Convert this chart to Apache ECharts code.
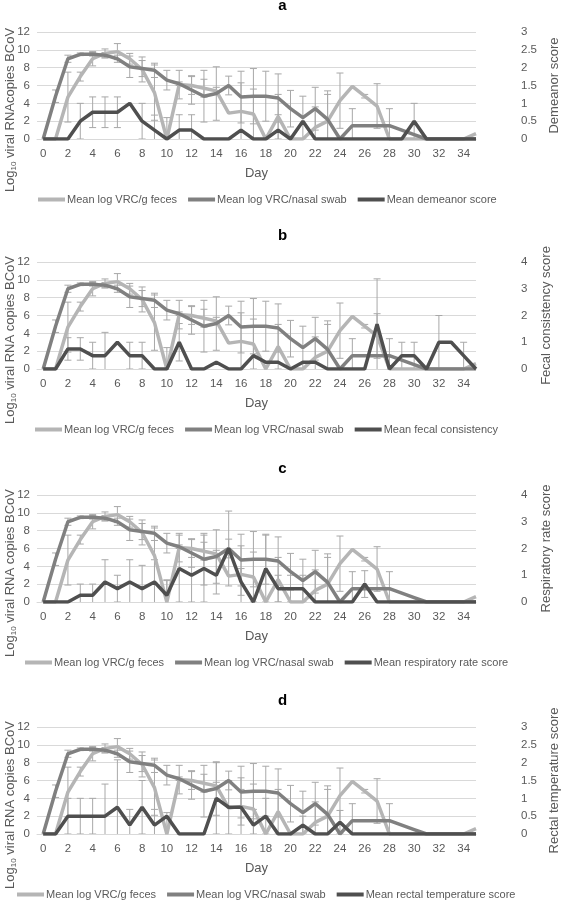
<!DOCTYPE html>
<html>
<head>
<meta charset="utf-8">
<script src="https://cdn.jsdelivr.net/npm/echarts@6/dist/echarts.min.js"></script>
<style>
html,body{margin:0;padding:0;background:#fff;}
#c{width:565px;height:911px;}
</style>
</head>
<body>
<div id="c"></div>
<script>
const days = [0,1,2,3,4,5,6,7,8,9,10,11,12,13,14,15,16,17,18,19,20,21,22,23,24,25,26,27,28,29,30,31,32,33,34,35];

const feces    = [0,0,4.7,7.0,9.0,9.6,9.8,9.0,7.8,5.2,0,6.1,6.0,5.7,5.4,2.9,3.1,2.8,0,2.5,0,0,1.3,2.0,4.3,5.9,4.8,3.7,0,0,0,0,0,0,0,0.6];
const fecesErr = [0,0,2.8,0.5,0.8,0.5,0.9,0.6,1.4,3.1,2.4,1.6,1.0,1.0,0.4,0,3.2,2.8,0,2.5,0,0,2.3,3.0,3.1,0,0.2,2.5,0,0,0,0,0,0,0,0];

const nasal    = [0,4.8,9.0,9.5,9.5,9.4,9.0,8.1,7.9,7.7,6.6,6.2,5.5,4.8,5.1,6.0,4.7,4.8,4.8,4.6,3.4,2.4,3.4,2.2,0,1.5,1.5,1.5,1.5,1.0,0.5,0,0,0,0,0];
const nasalErr = [0,0.7,0.4,0.15,0.2,0.3,0.4,1.2,0.9,0.8,1.1,0.2,1.6,2.9,3.0,1.05,2.9,3.1,2.8,2.7,2.05,2.4,2.4,3.2,0,1.9,0,0,1.9,0,0,0,0,0,0,0];

const demeanor    = [0,0,0,0.5,0.75,0.75,0.75,1.0,0.5,0.25,0,0.25,0.25,0,0,0,0.25,0,0,0.25,0,0.5,0,0,0,0,0,0,0,0,0.5,0,0,0,0,0];
const demeanorErr = [0,0,0,0.5,0.43,0.43,0.43,0,0.5,0.42,0,0.43,0.43,0,0,0,0,0,0,0.43,0,0,0,0,0,0,0,0,0,0,0.5,0,0,0,0,0];

const fecal    = [0,0,0.75,0.75,0.5,0.5,1.0,0.5,0.5,0,0,1.0,0,0,0.25,0,0,0.5,0.25,0.25,0,0.25,0.25,0,0,0,0,1.67,0,0.5,0.5,0,1.0,1.0,0.5,0];
const fecalErr = [0,0,0.42,0.42,0.5,0.87,0,0.5,0.5,0,0,0.7,0,0,0,0,0,0,0,0,0,0,0,0,0,0,0,1.7,0,0.5,0.5,0,1.0,0,0.5,0];

const resp    = [0,0,0,0.25,0.25,0.75,0.5,0.75,0.5,0.75,0.25,1.25,1.0,1.25,1.0,2.0,0.75,0,1.25,0.5,0.5,0.5,0,0,0,0,0.67,0,0,0,0,0,0,0,0,0];
const respErr = [0,0,0,0.42,0.42,0.83,0.5,0.83,0.87,0.83,0.58,1.25,1.0,1.25,0.7,1.4,0.5,0,1.25,0.5,0.5,0.5,0,0,0,0,0.5,0,0,0,0,0,0,0,0,0];

const rectal    = [0,0,0.5,0.5,0.5,0.5,0.75,0.25,0.75,0.25,0.5,0,0,0,1.0,0.75,0.75,0.25,0.5,0,0,0.25,0,0,0.33,0,0,0,0,0,0,0,0,0,0,0];
const rectalErr = [0,0,0.5,0.5,0.5,0.9,1.33,0.44,0.75,0.44,0,0,0,0,1.0,0.75,0.5,0.44,0.5,0,0,0.25,0,0,0.33,0,0,0,0,0,0,0,0,0,0,0];

const panelLetters = ['a','b','c','d'];
const leftTitles = ['{n|Log}{s|10}{n| viral RNAcopies BCoV}','{n|Log}{s|10}{n| viral RNA copies BCoV}','{n|Log}{s|10}{n| viral RNA copies BCoV}','{n|Log}{s|10}{n| viral RNA copies BCoV}'];
const rightTitles = ['Demeanor score','Fecal consistency score','Respiratory rate score','Rectal temperature score'];
const scoreNames = ['Mean demeanor score','Mean fecal consistency','Mean respiratory rate score','Mean rectal temperature score'];
const scoreData = [demeanor, fecal, resp, rectal];
const scoreErrData = [demeanorErr, fecalErr, respErr, rectalErr];
const rightMax = [3,4,4,3];
const rightInterval = [0.5,1,1,0.5];
const fecesName = 'Mean log VRC/g feces';
const nasalName = 'Mean log VRC/nasal swab';

const FONT = '"Liberation Sans", Arial, sans-serif';
const C_FECES = '#b5b5b5', C_NASAL = '#808080', C_SCORE = '#4f4f4f', C_ERR = '#a8a8a8', C_TXT = '#595959';
const PANEL_OFF = [0, 230, 463, 695];
const LEGEND_LEFT = [38, 35, 25, 17];

function lineData(vals){ return days.map((d,i)=>[d, vals[i]]); }
function errData(vals, errs){
  const out = [];
  days.forEach((d,i)=>{ if (errs[i] > 0) out.push([d, vals[i]-errs[i], vals[i]+errs[i]]); });
  return out;
}
function errRender(params, api){
  const x = api.value(0);
  let lo = api.value(1), hi = api.value(2);
  const loClipped = lo < 0;
  if (loClipped) lo = 0;
  const pLo = api.coord([x, lo]);
  const pHi = api.coord([x, hi]);
  const w = 3.5;
  const st = {stroke: C_ERR, lineWidth: 1};
  const ch = [
    {type:'line', shape:{x1:pLo[0], y1:pLo[1], x2:pHi[0], y2:pHi[1]}, style: st},
    {type:'line', shape:{x1:pHi[0]-w, y1:pHi[1], x2:pHi[0]+w, y2:pHi[1]}, style: st}
  ];
  if (!loClipped) ch.push({type:'line', shape:{x1:pLo[0]-w, y1:pLo[1], x2:pLo[0]+w, y2:pLo[1]}, style: st});
  return {type:'group', children: ch};
}

const grid = [], xAxis = [], yAxis = [], series = [], title = [], legend = [], graphic = [];
panelLetters.forEach((L, p) => {
  const o = PANEL_OFF[p];
  title.push({text: L, left: 'center', top: o - 7, textStyle:{fontFamily: FONT, fontSize: 15, fontWeight: 'bold', color: '#000'}});
  grid.push({left: 37, right: 89, top: o + 32, height: 107, outerBoundsMode: 'none', containLabel: false});
  xAxis.push({
    gridIndex: p, type: 'value', min: -0.5, max: 35, interval: 0.5,
    name: 'Day', nameLocation: 'middle', nameGap: 28,
    nameTextStyle: {fontFamily: FONT, fontSize: 13, color: C_TXT},
    axisLine: {show: true, lineStyle: {color: '#d9d9d9', width: 1}},
    axisTick: {show: false}, splitLine: {show: false},
    axisLabel: {fontFamily: FONT, fontSize: 11.5, color: C_TXT, margin: 9,
      formatter: v => (Number.isInteger(v) && v >= 0 && v % 2 === 0 && v <= 34) ? String(v) : ''}
  });
  yAxis.push({
    gridIndex: p, type: 'value', min: 0, max: 12, interval: 2, position: 'left',
    axisLine: {show: false}, axisTick: {show: false},
    splitLine: {show: true, lineStyle: {color: '#d9d9d9', width: 1}},
    axisLabel: {fontFamily: FONT, fontSize: 11.5, color: C_TXT, margin: 7}
  });
  yAxis.push({
    gridIndex: p, type: 'value', min: 0, max: rightMax[p], interval: rightInterval[p], position: 'right',
    name: rightTitles[p], nameLocation: 'middle', nameGap: 64, nameRotate: 90,
    nameTextStyle: {fontFamily: FONT, fontSize: 13, color: C_TXT},
    axisLine: {show: false}, axisTick: {show: false}, splitLine: {show: false},
    axisLabel: {fontFamily: FONT, fontSize: 11.5, color: C_TXT, margin: 45}
  });
  graphic.push({
    type: 'text', x: 10, y: o + 110, rotation: Math.PI / 2,
    style: {
      text: leftTitles[p], align: 'center', verticalAlign: 'middle', fill: C_TXT,
      rich: {n: {fontFamily: FONT, fontSize: 13, fill: C_TXT, color: C_TXT, lineHeight: 16},
             s: {fontFamily: FONT, fontSize: 8, fill: C_TXT, color: C_TXT, verticalAlign: 'bottom', lineHeight: 16, padding: [6,0,0,0]}}
    }
  });
  const yl = p*2, yr = p*2+1;
  series.push({type:'custom', name: fecesName+'_err', xAxisIndex: p, yAxisIndex: yl, renderItem: errRender, data: errData(feces, fecesErr), z: 3, silent: true, clip: true});
  series.push({type:'custom', name: nasalName+'_err', xAxisIndex: p, yAxisIndex: yl, renderItem: errRender, data: errData(nasal, nasalErr), z: 3, silent: true, clip: true});
  series.push({type:'custom', name: scoreNames[p]+'_err', xAxisIndex: p, yAxisIndex: yr, renderItem: errRender, data: errData(scoreData[p], scoreErrData[p]), z: 3, silent: true, clip: true});
  series.push({type:'line', name: fecesName, xAxisIndex: p, yAxisIndex: yl, data: lineData(feces), showSymbol: false, symbol: 'none', lineStyle: {color: C_FECES, width: 3.5}, itemStyle: {color: C_FECES}, z: 4, animation: false});
  series.push({type:'line', name: nasalName, xAxisIndex: p, yAxisIndex: yl, data: lineData(nasal), showSymbol: false, symbol: 'none', lineStyle: {color: C_NASAL, width: 3.5}, itemStyle: {color: C_NASAL}, z: 5, animation: false});
  series.push({type:'line', name: scoreNames[p], xAxisIndex: p, yAxisIndex: yr, data: lineData(scoreData[p]), showSymbol: false, symbol: 'none', lineStyle: {color: C_SCORE, width: 3.5}, itemStyle: {color: C_SCORE}, z: 6, animation: false});
  legend.push({
    top: o + 194, left: LEGEND_LEFT[p], padding: 0, icon: 'rect', itemWidth: 27, itemHeight: 4, itemGap: 11,
    data: [fecesName, nasalName, scoreNames[p]],
    textStyle: {fontFamily: FONT, fontSize: 11, color: C_TXT, padding: [0,0,0,-3]}
  });
});

const chart = echarts.init(document.getElementById('c'), null, {renderer: 'canvas'});
chart.setOption({animation: false, backgroundColor: '#fff', title, grid, xAxis, yAxis, series, legend, graphic});
</script>
</body>
</html>
